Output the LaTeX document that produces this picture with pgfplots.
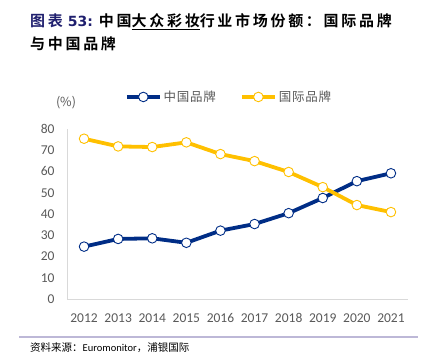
\documentclass[border=0pt]{standalone}
\usepackage{pgfplots}
\pgfplotsset{compat=1.18}
\usepackage{fontspec}
\setmainfont{Carlito}
\newfontfamily\cjk{Noto Sans CJK SC}
\newfontfamily\cjkb[LetterSpace=18]{Noto Sans CJK SC Bold}
\newfontfamily\cjkl[LetterSpace=6]{Noto Sans CJK SC}
\newfontfamily\dvb{DejaVu Sans Bold}
\definecolor{navy}{HTML}{002D86}
\definecolor{gold}{HTML}{FFC000}
\definecolor{tick}{HTML}{595959}
\definecolor{axisgray}{HTML}{D9D9D9}
\definecolor{titlenavy}{HTML}{1F1F6E}
\definecolor{rulec}{HTML}{BDB8D7}
\begin{document}
\begin{tikzpicture}[x=1pt,y=1pt]
\useasboundingbox (0,0) rectangle (430,363);
\begin{axis}[
  at={(67pt,63.7pt)}, anchor=south west,
  scale only axis, width=341pt, height=170.6pt,
  xmin=-0.5, xmax=9.5, ymin=0, ymax=80,
  xtick={0,...,9},
  xticklabels={2012,2013,2014,2015,2016,2017,2018,2019,2020,2021},
  ytick={0,10,...,80},
  axis lines*=left,
  axis line style={axisgray, line width=1pt},
  major tick length=0pt,
  tick style={draw=none},
  ticklabel style={font=\fontsize{13.5}{14}\selectfont, text=tick},
  /pgf/number format/assume math mode=true,
  xticklabel style={yshift=-11pt, text height=9pt, text depth=1pt},
  yticklabel style={xshift=-9pt},
  clip=false,
  legend columns=2,
  legend style={draw=none, fill=none, at={(0.475,1.186)}, anchor=center,
    font=\cjkl\fontsize{12.5}{13}\selectfont, text=tick,
    /tikz/every even column/.append style={column sep=22pt}},
  legend image code/.code={\draw[mark repeat=2,mark phase=2,#1] plot coordinates {(0pt,0pt) (16.5pt,0pt) (33pt,0pt)};},
]
\addplot[navy, line width=3.8pt, mark=*, mark size=4.8pt,
  mark options={fill=white, draw=navy, line width=0.9pt}]
  coordinates {(0,24.7)(1,28.3)(2,28.6)(3,26.5)(4,32.2)(5,35.3)(6,40.4)(7,47.5)(8,55.4)(9,59.1)};
\addlegendentry{中国品牌}
\addplot[gold, line width=3.8pt, mark=*, mark size=4.8pt,
  mark options={fill=white, draw=gold, line width=0.9pt}]
  coordinates {(0,75.3)(1,71.7)(2,71.4)(3,73.6)(4,68.1)(5,64.8)(6,59.7)(7,52.6)(8,44.2)(9,40.9)};
\addlegendentry{国际品牌}
\end{axis}
\node[anchor=center, text=tick, font=\cjk\fontsize{12.5}{13}\selectfont] at (66,260) {(\%)};
\node[anchor=west, inner sep=0pt, font=\fontsize{15}{16}\selectfont] at (30,341)
  {{\color{titlenavy}{\cjkb 图表}\hspace{5pt}{\dvb\fontsize{14}{16}\selectfont 53:}}\hspace{6pt}{\cjkb 中国\underline{大众彩妆}行业市场份额：国际品牌}};
\node[anchor=west, inner sep=0pt, font=\cjkb\fontsize{15}{16}\selectfont] at (30,319) {与中国品牌};
\draw[rulec, line width=1.5pt] (19,26) -- (418,26);
\node[anchor=west, inner sep=0pt, font=\fontsize{10.5}{11}\selectfont] at (30,15)
  {{\cjk 资料来源：}Euromonitor{\cjk ，浦银国际}};
\end{tikzpicture}
\end{document}
